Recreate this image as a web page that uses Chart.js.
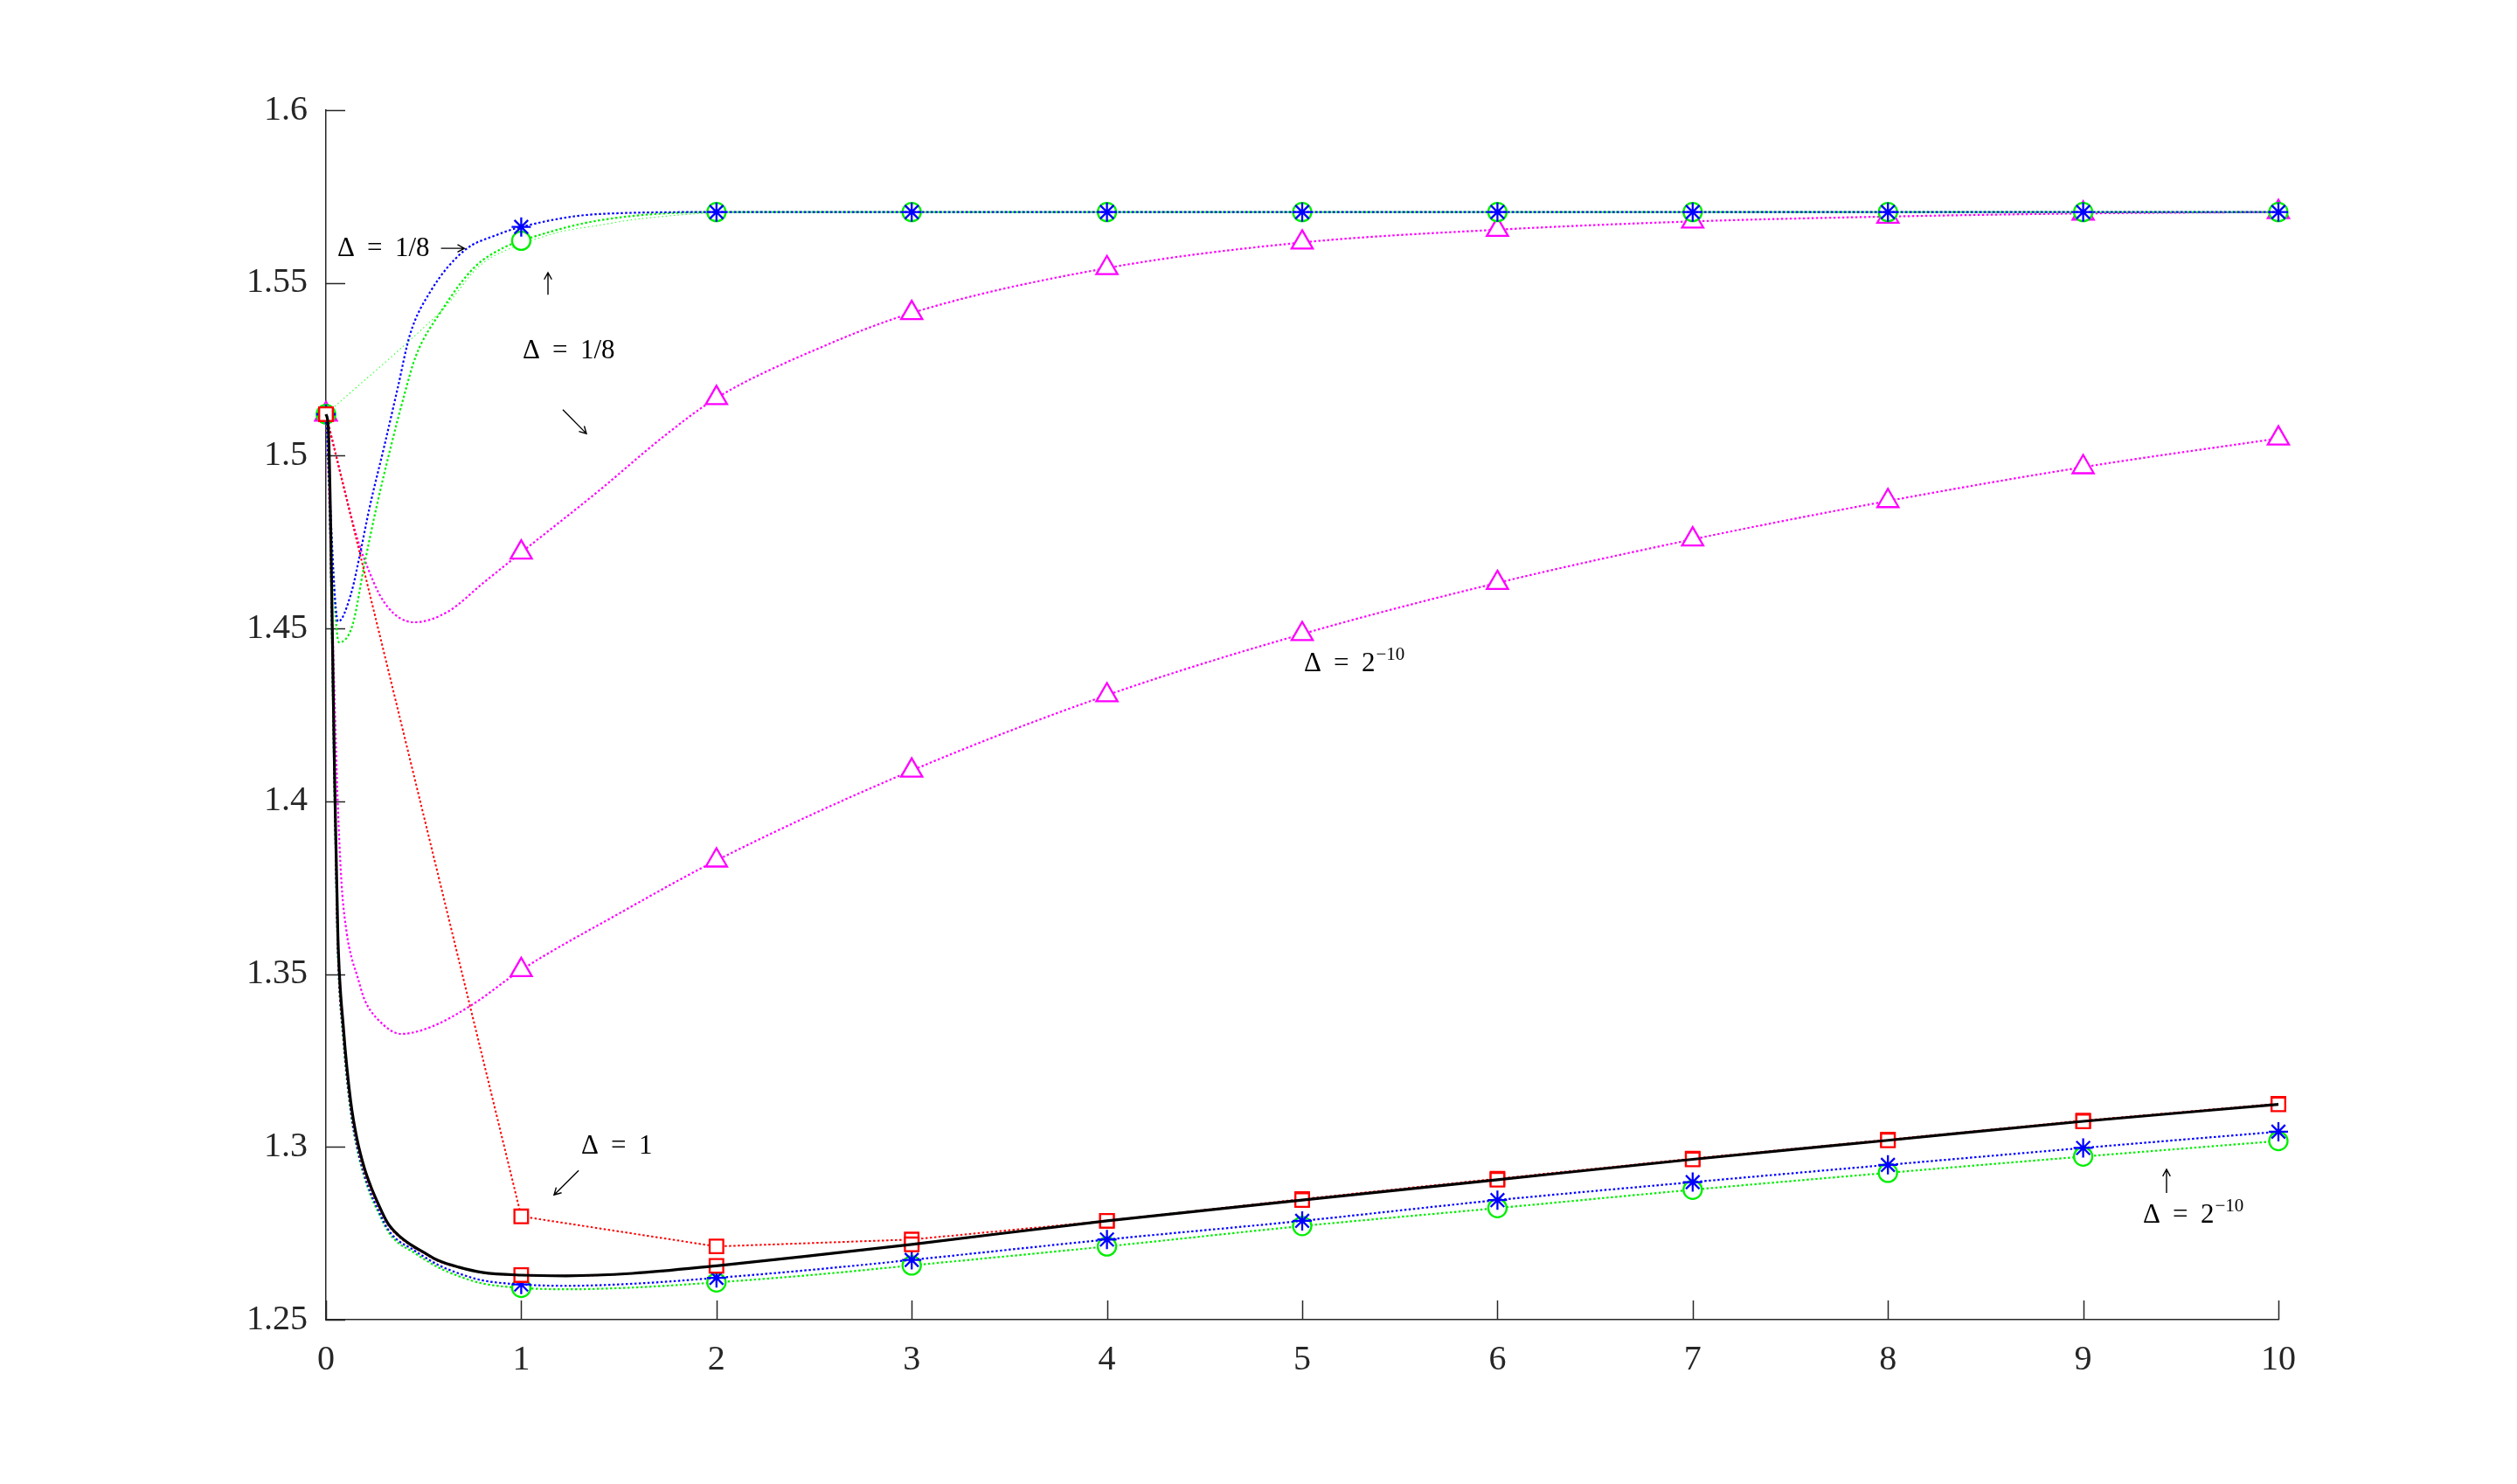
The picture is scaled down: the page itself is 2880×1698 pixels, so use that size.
<!DOCTYPE html>
<html>
<head>
<meta charset="utf-8">
<script src="https://cdn.jsdelivr.net/npm/chart.js@4.4.1/dist/chart.umd.min.js"></script>
<style>
  html, body { margin: 0; padding: 0; background: #fff; }
  #wrap { width: 2880px; height: 1698px; }
</style>
</head>
<body>
<div id="wrap"><canvas id="plot"></canvas></div>
<script>
// integer abscissae (markers sit here)
const xInt = [0, 1, 2, 3, 4, 5, 6, 7, 8, 9, 10];

// exact curve (black, solid)
const exactX = [0, 0.012, 0.045, 0.061, 0.09, 0.127, 0.16, 0.196, 0.23, 0.264, 0.316, 0.37, 0.434, 0.5, 0.573, 0.68, 0.8, 1, 1.23, 1.57, 2, 2.5, 3, 4, 5, 6, 7, 8, 9, 10];
const exactY = [1.512, 1.508, 1.405, 1.361, 1.334, 1.313, 1.302, 1.294, 1.2885, 1.284, 1.278, 1.2745, 1.2717, 1.2695, 1.2672, 1.2652, 1.2637, 1.2629, 1.2627, 1.2634, 1.2656, 1.2686, 1.2718, 1.2786, 1.2846, 1.2905, 1.2964, 1.3019, 1.3074, 1.3123];

// lower family, fine step (same abscissae as exact)
const redFineY = [1.512, 1.506, 1.402, 1.358, 1.332, 1.3115, 1.3008, 1.293, 1.2877, 1.2834, 1.2776, 1.2742, 1.2715, 1.2693, 1.267, 1.2651, 1.2636, 1.2629, 1.2627, 1.2634, 1.2656, 1.2686, 1.2718, 1.2786, 1.2846, 1.2905, 1.2964, 1.3019, 1.3074, 1.3123];
const blueLowY = [1.512, 1.505, 1.40, 1.357, 1.331, 1.3105, 1.2998, 1.292, 1.2865, 1.2822, 1.2763, 1.2729, 1.2707, 1.2683, 1.2659, 1.2634, 1.2614, 1.2602, 1.2598, 1.2604, 1.2621, 1.2645, 1.2673, 1.2732, 1.2786, 1.2846, 1.2898, 1.2948, 1.2997, 1.3044];
const greenLowY = [1.512, 1.504, 1.398, 1.356, 1.330, 1.3098, 1.2992, 1.2913, 1.2858, 1.2815, 1.2757, 1.2722, 1.27, 1.2676, 1.2652, 1.2626, 1.2605, 1.2592, 1.2588, 1.2593, 1.2608, 1.263, 1.2657, 1.2712, 1.2771, 1.2823, 1.2876, 1.2925, 1.2972, 1.3017];

// Delta = 1 (red, coarse)
const redCoarseY = [1.512, 1.2799, 1.2712, 1.2732, 1.2786, 1.2849, 1.2908, 1.2966, 1.3021, 1.3076, 1.3125];

// upper family
const blueUpX = [0, 0.062, 0.128, 0.176, 0.224, 0.3, 0.367, 0.43, 0.537, 0.707, 0.88, 1, 1.39, 2, 3, 4, 5, 6, 7, 8, 9, 10];
const blueUpY = [1.512, 1.452, 1.46, 1.472, 1.4852, 1.5031, 1.5195, 1.535, 1.5477, 1.5593, 1.564, 1.5662, 1.5699, 1.5705, 1.5705, 1.5705, 1.5705, 1.5705, 1.5705, 1.5705, 1.5705, 1.5705];
const greenUpX = [0, 0.066, 0.136, 0.196, 0.26, 0.33, 0.403, 0.46, 0.59, 0.76, 0.913, 1, 1.39, 2, 3, 4, 5, 6, 7, 8, 9, 10];
const greenUpY = [1.512, 1.446, 1.451, 1.4683, 1.4855, 1.5021, 1.518, 1.5288, 1.5418, 1.5545, 1.5603, 1.5622, 1.568, 1.5705, 1.5705, 1.5705, 1.5705, 1.5705, 1.5705, 1.5705, 1.5705, 1.5705];
const greenThinX = [0, 0.59, 0.76, 0.85, 1, 1.2, 1.39, 1.6, 2, 3, 4, 5, 6, 7, 8, 9, 10];
const greenThinY = [1.512, 1.5418, 1.5535, 1.5575, 1.5612, 1.5648, 1.5666, 1.5685, 1.5703, 1.5705, 1.5705, 1.5705, 1.5705, 1.5705, 1.5705, 1.5705, 1.5705];
const magUpX = [0, 0.05, 0.1, 0.15, 0.195, 0.298, 0.452, 0.622, 0.81, 1, 1.39, 1.737, 2, 2.5, 3, 4, 5, 6, 7, 8, 9, 10];
const magUpY = [1.512, 1.5005, 1.489, 1.478, 1.4703, 1.4576, 1.4518, 1.4548, 1.4634, 1.472, 1.4895, 1.5059, 1.5167, 1.5305, 1.5413, 1.5543, 1.5617, 1.5654, 1.5678, 1.5692, 1.5701, 1.5705];
const magLowX = [0, 0.015, 0.03, 0.045, 0.06, 0.08, 0.106, 0.13, 0.16, 0.196, 0.264, 0.385, 0.537, 0.745, 1, 1.5, 2, 3, 4, 5, 6, 7, 8, 9, 10];
const magLowY = [1.512, 1.49, 1.458, 1.428, 1.40, 1.376, 1.362, 1.355, 1.3495, 1.3428, 1.337, 1.3327, 1.3347, 1.341, 1.3512, 1.3675, 1.3829, 1.4089, 1.4307, 1.4484, 1.4632, 1.4758, 1.4869, 1.4967, 1.505];

// annotations
const labelVal = ['1/8', '1/8', '2', '1', '2'];
const labelSup = ['', '', '\u221210', '', '\u221210'];
const labelX = [0.058, 1.007, 5.009, 1.307, 9.306];
const labelY = [1.5578, 1.5282, 1.4376, 1.2980, 1.2781];
const arrowFrom = [[0.589, 1.56], [1.137, 1.5466], [1.213, 1.5133], [1.294, 1.2932], [9.427, 1.2867]];
const arrowTo = [[0.709, 1.56], [1.137, 1.553], [1.334, 1.5064], [1.168, 1.2861], [9.427, 1.2935]];

const yTicks = [1.25, 1.3, 1.35, 1.4, 1.45, 1.5, 1.55, 1.6];

function pts(xs, ys) {
  return xs.map((x, i) => ({x: x, y: ys[i]}));
}

function onInt(r) {
  return (ctx) => (ctx.raw && Number.isInteger(ctx.raw.x)) ? r : 0;
}

function series(data, color, style, r, opts) {
  return Object.assign({
    data: data,
    borderColor: color,
    borderWidth: 2.2,
    borderDash: [2.5, 2.5],
    pointStyle: style,
    pointRadius: onInt(r),
    pointBorderColor: color,
    pointBackgroundColor: '#fff',
    pointBorderWidth: 2.3,
    cubicInterpolationMode: 'monotone',
    clip: false
  }, opts || {});
}

const insideTicks = {
  id: 'insideTicks',
  beforeDatasetsDraw(chart) {
    const {ctx, scales: {x, y}, chartArea: a} = chart;
    ctx.save();
    ctx.strokeStyle = '#262626';
    ctx.lineWidth = 1.5;
    ctx.beginPath();
    xInt.forEach(v => {
      const px = Math.round(x.getPixelForValue(v)) + 0.5;
      ctx.moveTo(px, a.bottom);
      ctx.lineTo(px, a.bottom - 22);
    });
    yTicks.forEach(v => {
      const py = Math.round(y.getPixelForValue(v)) + 0.5;
      ctx.moveTo(a.left, py);
      ctx.lineTo(a.left + 22, py);
    });
    ctx.stroke();
    ctx.restore();
  }
};

function arrow(ctx, x1, y1, x2, y2) {
  const ang = Math.atan2(y2 - y1, x2 - x1);
  const h = 9;
  ctx.beginPath();
  ctx.moveTo(x1, y1);
  ctx.lineTo(x2, y2);
  ctx.moveTo(x2 - h * Math.cos(ang - 0.5), y2 - h * Math.sin(ang - 0.5));
  ctx.lineTo(x2, y2);
  ctx.lineTo(x2 - h * Math.cos(ang + 0.5), y2 - h * Math.sin(ang + 0.5));
  ctx.stroke();
}

const notes = {
  id: 'notes',
  afterDraw(chart) {
    const {ctx, scales: {x, y}} = chart;
    ctx.save();
    ctx.fillStyle = '#000';
    ctx.strokeStyle = '#000';
    ctx.lineWidth = 1.4;
    ctx.textBaseline = 'alphabetic';
    ctx.textAlign = 'left';
    labelVal.forEach((val, i) => {
      const px = x.getPixelForValue(labelX[i]);
      const py = y.getPixelForValue(labelY[i]);
      ctx.font = '31px "Liberation Serif", "DejaVu Serif", serif';
      ctx.fillText('\u0394', px, py);
      ctx.fillText('=', px + 34, py);
      ctx.fillText(val, px + 66, py);
      if (labelSup[i]) {
        const w = ctx.measureText(val).width;
        ctx.font = '21px "Liberation Serif", "DejaVu Serif", serif';
        ctx.fillText(labelSup[i], px + 66 + w + 1, py - 13);
      }
    });
    arrowFrom.forEach((f, i) => {
      const t = arrowTo[i];
      arrow(ctx, x.getPixelForValue(f[0]), y.getPixelForValue(f[1]),
                 x.getPixelForValue(t[0]), y.getPixelForValue(t[1]));
    });
    ctx.restore();
  }
};

const exact = pts(exactX, exactY);

new Chart(document.getElementById('plot'), {
  type: 'line',
  data: {
    datasets: [
      {
        data: exact,
        borderColor: '#000',
        borderWidth: 3.2,
        pointRadius: 0,
        cubicInterpolationMode: 'monotone',
        clip: false
      },
      series(pts(exactX, redFineY), '#ff0000', 'rect', 11, {borderWidth: 2}),
      series(pts(xInt, redCoarseY), '#ff0000', 'rect', 11, {borderWidth: 2, cubicInterpolationMode: 'default', tension: 0}),
      series(pts(blueUpX, blueUpY), '#0000ff', 'star', 11),
      series(pts(exactX, blueLowY), '#0000ff', 'star', 11),
      series(pts(greenUpX, greenUpY), '#00ee00', 'circle', 10.5),
      series(pts(exactX, greenLowY), '#00ee00', 'circle', 10.5),
      series(pts(greenThinX, greenThinY), '#33ff33', 'circle', 0, {borderWidth: 1.1, borderDash: [1.5, 3], cubicInterpolationMode: 'default', tension: 0.3}),
      series(pts(magUpX, magUpY), '#ff00ff', 'triangle', 14),
      series(pts(magLowX, magLowY), '#ff00ff', 'triangle', 14)
    ]
  },
  options: {
    responsive: true,
    maintainAspectRatio: false,
    animation: false,
    events: [],
    layout: { padding: { left: 0, top: 126, right: 273, bottom: 0 } },
    plugins: {
      legend: { display: false },
      tooltip: { enabled: false }
    },
    scales: {
      x: {
        type: 'linear',
        min: 0,
        max: 10,
        afterFit: (s) => { s.height = 188; },
        grid: { display: false },
        border: { display: true, color: '#262626', width: 1.5 },
        ticks: {
          stepSize: 1,
          padding: 14,
          color: '#262626',
          font: { family: '"Liberation Serif", serif', size: 40 }
        }
      },
      y: {
        type: 'linear',
        min: 1.25,
        max: 1.6,
        afterFit: (s) => { s.width = 373; },
        grid: { display: false },
        border: { display: true, color: '#262626', width: 1.5 },
        ticks: {
          stepSize: 0.05,
          padding: 13,
          color: '#262626',
          font: { family: '"Liberation Serif", serif', size: 40 },
          callback: (v) => String(parseFloat(Number(v).toFixed(2)))
        }
      }
    }
  },
  plugins: [insideTicks, notes]
});
</script>
</body>
</html>
